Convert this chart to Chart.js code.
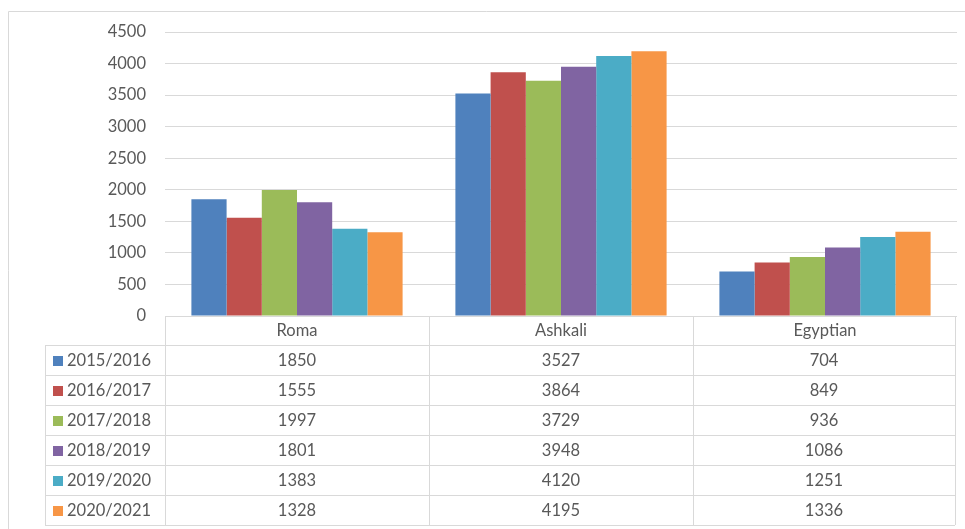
<!DOCTYPE html>
<html>
<head>
<meta charset="utf-8">
<script src="https://cdn.jsdelivr.net/npm/chart.js@4"></script>
<style>
  html, body { margin: 0; padding: 0; background: #fff; }
  #wrap { position: relative; width: 965px; height: 529px; }
</style>
</head>
<body>
<div id="wrap"><canvas id="chart" width="965" height="529"></canvas></div>
<script>
// Categories and yearly series
const groups = ['Roma', 'Ashkali', 'Egyptian'];
const years = ['2015/2016', '2016/2017', '2017/2018', '2018/2019', '2019/2020', '2020/2021'];
const y2015 = [1850, 3527, 704];
const y2016 = [1555, 3864, 849];
const y2017 = [1997, 3729, 936];
const y2018 = [1801, 3948, 1086];
const y2019 = [1383, 4120, 1251];
const y2020 = [1328, 4195, 1336];
const seriesValues = [y2015, y2016, y2017, y2018, y2019, y2020];
const yTicks = [0, 500, 1000, 1500, 2000, 2500, 3000, 3500, 4000, 4500];

const colors = ['#4F81BD', '#C0504D', '#9BBB59', '#8064A2', '#4BACC6', '#F79646'];
const textColor = '#595959';
const lineColor = '#d9d9d9';
const fontFamily = 'Lato, "Open Sans", sans-serif';
const fontSize = 16.5;

// Excel-style data table under the plot + outer frame
const dataTable = {
  id: 'dataTable',
  afterDraw(chart) {
    const ctx = chart.ctx;
    const area = chart.chartArea;
    const x = chart.scales.x;
    const tableLeft = 45;
    const headerBottom = area.bottom + 29;
    const rowH = 30;
    const tableBottom = headerBottom + rowH * years.length;

    // column edges from the category scale
    const edges = [area.left];
    for (let i = 0; i < groups.length - 1; i++) {
      edges.push((x.getPixelForValue(i) + x.getPixelForValue(i + 1)) / 2);
    }
    edges.push(area.right - 2);

    ctx.save();
    ctx.strokeStyle = lineColor;
    ctx.lineWidth = 1;
    ctx.beginPath();
    // header top and column lines
    ctx.moveTo(area.left, Math.round(area.bottom) + 0.5);
    ctx.lineTo(edges[edges.length - 1], Math.round(area.bottom) + 0.5);
    edges.forEach(e => {
      ctx.moveTo(Math.round(e) + 0.5, area.bottom);
      ctx.lineTo(Math.round(e) + 0.5, tableBottom);
    });
    ctx.moveTo(tableLeft + 0.5, headerBottom);
    ctx.lineTo(tableLeft + 0.5, tableBottom);
    for (let r = 0; r <= years.length; r++) {
      const yy = Math.round(headerBottom + r * rowH) + 0.5;
      ctx.moveTo(tableLeft, yy);
      ctx.lineTo(edges[edges.length - 1], yy);
    }
    ctx.stroke();

    // rows: legend key, series name, values
    ctx.font = `${fontSize}px ${fontFamily}`;
    ctx.textBaseline = 'middle';
    years.forEach((name, r) => {
      const cy = headerBottom + r * rowH + rowH / 2 + 1;
      ctx.fillStyle = colors[r];
      ctx.fillRect(53, cy - 5, 10, 10);
      ctx.fillStyle = textColor;
      ctx.textAlign = 'left';
      ctx.fillText(name, 67, cy);
      ctx.textAlign = 'center';
      seriesValues[r].forEach((v, c) => {
        ctx.fillText(String(v), (edges[c] + edges[c + 1]) / 2, cy);
      });
    });

    // outer frame
    ctx.beginPath();
    ctx.moveTo(8.5, chart.height);
    ctx.lineTo(8.5, 11.5);
    ctx.lineTo(chart.width, 11.5);
    ctx.stroke();
    ctx.restore();
  }
};

new Chart(document.getElementById('chart'), {
  type: 'bar',
  data: {
    labels: groups,
    datasets: years.map((name, i) => ({
      label: name,
      data: seriesValues[i],
      backgroundColor: colors[i],
      borderWidth: 0,
      barPercentage: 1.0,
      categoryPercentage: 0.8
    }))
  },
  options: {
    responsive: false,
    animation: false,
    layout: { padding: { left: 0, top: 32, right: 8, bottom: 184 } },
    plugins: {
      legend: { display: false },
      tooltip: { enabled: false }
    },
    scales: {
      x: {
        grid: { display: false, drawTicks: false },
        border: { display: false },
        ticks: { color: textColor, font: { family: fontFamily, size: fontSize }, padding: 5 },
        afterFit: s => { s.height = 29; }
      },
      y: {
        min: 0,
        max: 4500,
        afterBuildTicks: s => { s.ticks = yTicks.map(v => ({ value: v })); },
        grid: { color: lineColor, drawTicks: false },
        border: { display: false },
        ticks: {
          color: textColor,
          font: { family: fontFamily, size: fontSize },
          padding: 19,
          callback: v => String(v)
        },
        afterFit: s => { s.width = 165; }
      }
    }
  },
  plugins: [dataTable]
});
</script>
</body>
</html>
